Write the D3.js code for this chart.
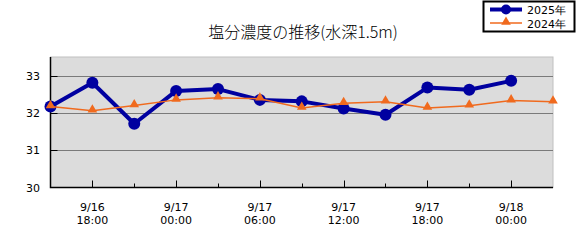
<!DOCTYPE html>
<html>
<head>
<meta charset="utf-8">
<script src="https://d3js.org/d3.v7.min.js"></script>
<style>
  body { margin: 0; background: #fff; }
  svg { display: block; }
  .tick-label { font-family: "DejaVu Sans", sans-serif; font-size: 11px; fill: #000; }
</style>
</head>
<body>
<div id="chart"></div>
<script>
// 3時間ごと 9/16 15:00 〜 9/18 03:00
const slots = d3.range(13);
const tickTop = ["9/16", "9/17", "9/17", "9/17", "9/17", "9/18"];
const tickBottom = ["18:00", "00:00", "06:00", "12:00", "18:00", "00:00"];
const majorSlots = [1, 3, 5, 7, 9, 11];
const yTicks = [30, 31, 32, 33];

const s2025 = [32.17, 32.81, 31.71, 32.59, 32.64, 32.35, 32.31, 32.12, 31.95, 32.68, 32.62, 32.86, null];
const s2024 = [32.17, 32.06, 32.20, 32.35, 32.41, 32.38, 32.13, 32.26, 32.30, 32.13, 32.19, 32.33, 32.30];

const W = 581, H = 245;
const m = { left: 50.5, right: 553, top: 57, bottom: 187.5 };

const svg = d3.select("#chart").append("svg")
  .attr("width", W).attr("height", H);

const x = d3.scaleLinear().domain([0, 12]).range([m.left, m.right]);
const y = d3.scaleLinear().domain([30, 33.5]).range([m.bottom, m.top]);

// 背景
svg.append("rect")
  .attr("x", m.left).attr("y", m.top)
  .attr("width", m.right - m.left).attr("height", m.bottom - m.top)
  .attr("fill", "#dcdcdc").attr("stroke", "#c0c0c0");

// グリッド
svg.append("g").selectAll("line")
  .data(yTicks.slice(1))
  .enter().append("line")
  .attr("x1", m.left).attr("x2", m.right)
  .attr("y1", d => Math.round(y(d)) + 0.5).attr("y2", d => Math.round(y(d)) + 0.5)
  .attr("stroke", "#7a7a7a").attr("stroke-width", 1);

// 軸線
svg.append("path")
  .attr("d", `M${m.left},${m.top}V${m.bottom}H${m.right}`)
  .attr("fill", "none").attr("stroke", "#000").attr("stroke-width", 1.5);

// Y目盛
svg.append("g").selectAll("line")
  .data(yTicks.slice(1))
  .enter().append("line")
  .attr("x1", m.left).attr("x2", m.left + 7)
  .attr("y1", d => Math.round(y(d)) + 0.5).attr("y2", d => Math.round(y(d)) + 0.5)
  .attr("stroke", "#000");

svg.append("g").selectAll("text")
  .data(yTicks)
  .enter().append("text")
  .attr("class", "tick-label")
  .attr("x", 40).attr("y", d => y(d) + 4)
  .attr("text-anchor", "end")
  .text(d => d);

// X目盛
svg.append("g").selectAll("line")
  .data(slots.slice(1, 12))
  .enter().append("line")
  .attr("x1", d => Math.round(x(d)) + 0.5).attr("x2", d => Math.round(x(d)) + 0.5)
  .attr("y1", m.bottom)
  .attr("y2", d => majorSlots.includes(d) ? m.bottom - 7 : m.bottom - 4)
  .attr("stroke", "#000");

const xl = svg.append("g").selectAll("text")
  .data(majorSlots)
  .enter().append("text")
  .attr("class", "tick-label")
  .attr("text-anchor", "middle");
xl.append("tspan").attr("x", d => x(d)).attr("y", 211).text((d, i) => tickTop[i]);
xl.append("tspan").attr("x", d => x(d)).attr("y", 224).text((d, i) => tickBottom[i]);

// 2025年
const line = d3.line()
  .defined(d => d != null)
  .x((d, i) => x(i))
  .y(d => y(d));

svg.append("path")
  .datum(s2025)
  .attr("d", line)
  .attr("fill", "none").attr("stroke", "#0000a0").attr("stroke-width", 4)
  .attr("stroke-linejoin", "round");

svg.append("g").selectAll("circle")
  .data(s2025.map((v, i) => ({ v, i })).filter(d => d.v != null))
  .enter().append("circle")
  .attr("cx", d => x(d.i)).attr("cy", d => y(d.v))
  .attr("r", 6).attr("fill", "#0000a0");

// 2024年
svg.append("path")
  .datum(s2024)
  .attr("d", line)
  .attr("fill", "none").attr("stroke", "#f06a1e").attr("stroke-width", 1.5);

const tri = d3.symbol().type(d3.symbolTriangle).size(40);
svg.append("g").selectAll("path")
  .data(s2024.map((v, i) => ({ v, i })))
  .enter().append("path")
  .attr("d", tri)
  .attr("transform", d => `translate(${x(d.i)},${y(d.v) - 1})`)
  .attr("fill", "#f06a1e");

// タイトル
svg.append("text")
  .attr("x", 303).attr("y", 38)
  .attr("text-anchor", "middle")
  .style("font-family", "'Noto Sans CJK JP', sans-serif")
  .style("font-size", "16px")
  .style("font-weight", 300)
  .text("塩分濃度の推移(水深1.5m)");

// 凡例
const lg = svg.append("g");
lg.append("rect")
  .attr("x", 483.5).attr("y", 1.5).attr("width", 91).attr("height", 30)
  .attr("fill", "#fff").attr("stroke", "#000").attr("stroke-width", 2);

const legendItems = [
  { name: "2025年", color: "#0000a0", w: 4, mark: "circle", yy: 9.5 },
  { name: "2024年", color: "#f06a1e", w: 1.5, mark: "tri", yy: 23 }
];
legendItems.forEach(it => {
  lg.append("line")
    .attr("x1", 490).attr("x2", 522).attr("y1", it.yy).attr("y2", it.yy)
    .attr("stroke", it.color).attr("stroke-width", it.w);
  if (it.mark === "circle") {
    lg.append("circle").attr("cx", 506).attr("cy", it.yy).attr("r", 5).attr("fill", it.color);
  } else {
    lg.append("path").attr("d", tri).attr("transform", `translate(506,${it.yy - 1})`).attr("fill", it.color);
  }
  lg.append("text")
    .attr("x", 527).attr("y", it.yy + 4.5)
    .style("font-family", "'DejaVu Sans', sans-serif")
    .style("font-size", "11px")
    .text(it.name);
});
</script>
</body>
</html>
